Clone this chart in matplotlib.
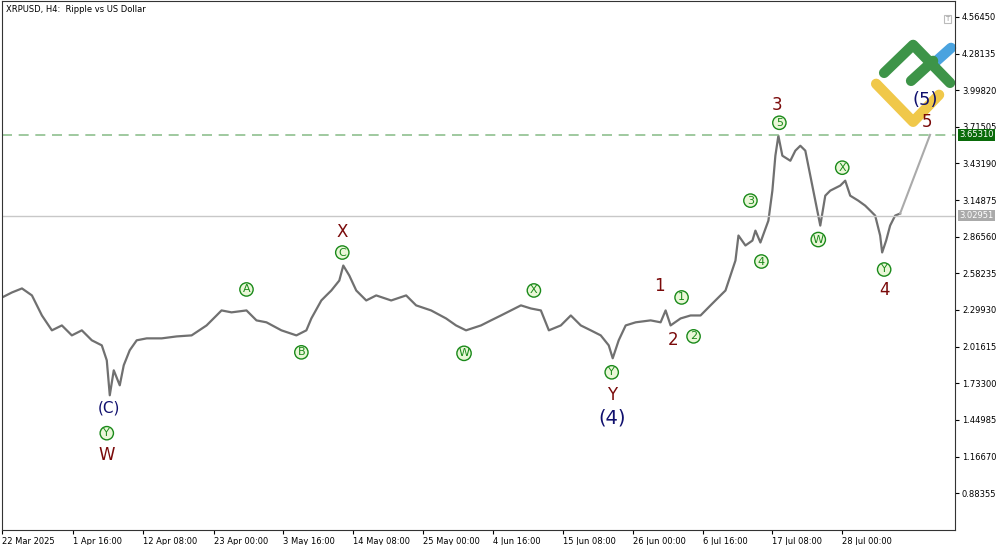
import matplotlib
matplotlib.use("Agg")
import matplotlib.pyplot as plt

# bar position (pixel-like index) and price
xs = [0,10,20,30,40,50,60,70,80,90,100,105,108,112,118,122,128,135,145,160,175,190,205,215,220,230,245,255,265,280,295,305,310,320,325,330,338,342,348,355,365,375,390,405,415,430,445,455,465,480,490,500,510,520,530,540,548,560,570,580,590,600,608,612,618,625,635,650,660,665,670,680,690,700,710,720,725,735,738,745,752,755,760,768,772,775,778,782,790,795,800,805,810,815,820,825,830,840,845,850,858,865,870,875,880,882,886,890,895,900]
prices = [2.396,2.435,2.466,2.412,2.257,2.142,2.180,2.103,2.142,2.065,2.026,1.910,1.640,1.833,1.717,1.872,1.988,2.065,2.080,2.080,2.095,2.103,2.180,2.257,2.296,2.281,2.296,2.219,2.204,2.142,2.103,2.142,2.234,2.373,2.412,2.450,2.527,2.643,2.566,2.450,2.373,2.412,2.373,2.412,2.335,2.296,2.234,2.180,2.142,2.180,2.219,2.257,2.296,2.335,2.311,2.296,2.142,2.180,2.257,2.180,2.142,2.103,2.026,1.926,2.065,2.180,2.204,2.219,2.204,2.296,2.180,2.234,2.257,2.257,2.335,2.412,2.450,2.682,2.875,2.798,2.836,2.913,2.821,2.990,3.222,3.492,3.646,3.492,3.453,3.531,3.569,3.531,3.338,3.145,2.952,3.183,3.222,3.261,3.299,3.183,3.145,3.106,3.068,3.029,2.875,2.744,2.836,2.952,3.029,3.045]
proj_x = [900, 930]
proj_p = [3.045, 3.6531]
level_green = 3.65310
level_gray = 3.02951
yticks = [4.56450,4.28135,3.99820,3.71505,3.43190,3.14875,2.86560,2.58235,2.29930,2.01615,1.73300,1.44985,1.16670,0.88355]
xtick_pos = [0,71,141,212,282,352,422,492,562,632,702,772,842]
xtick_labels = ["22 Mar 2025","1 Apr 16:00","12 Apr 08:00","23 Apr 00:00","3 May 16:00","14 May 08:00","25 May 00:00","4 Jun 16:00","15 Jun 08:00","26 Jun 00:00","6 Jul 16:00","17 Jul 08:00","28 Jul 00:00"]

def py(y):
    return 4.688 - y*0.007716

fig = plt.figure(figsize=(10,5.45), dpi=100)
ax = fig.add_axes([0.002, 15/545, 0.953, 1-16/545])
ax.set_xlim(0,955)
ax.set_ylim(py(530), py(0))
ax.plot(xs, prices, color="#707070", lw=1.6)
ax.plot(proj_x, proj_p, color="#aaaaaa", lw=1.5)
ax.axhline(level_green, color="#8fc08f", ls=(0,(6,4)), lw=1.2)
ax.axhline(level_gray, color="#c8c8c8", lw=1)
ax.yaxis.tick_right()
ax.set_yticks(yticks)
ax.set_yticklabels([f"{v:.5f}" for v in yticks], fontsize=6)
ax.set_xticks(xtick_pos)
ax.set_xticklabels(xtick_labels, fontsize=6, ha="left")
ax.tick_params(length=3, pad=2)
for s in ax.spines.values():
    s.set_color("#333333")
ax.text(4, py(9), "XRPUSD, H4:  Ripple vs US Dollar", fontsize=6, va="center")
ax.text(959, level_green, "3.65310", fontsize=6, color="white", va="center", ha="left", bbox=dict(fc="#0a6b0a", ec="none", pad=1), clip_on=False)
ax.text(959, level_gray, "3.02951", fontsize=6, color="white", va="center", ha="left", bbox=dict(fc="#aaaaaa", ec="none", pad=1), clip_on=False)

G = "#1a8a1a"; R = "#7a0a0a"; N = "#10106e"
circ = [("Y",105,433),("A",245,289),("B",300,352),("C",341,252),("W",463,353),("X",533,290),("Y",611,372),
        ("1",681,297),("2",693,336),("3",750,200),("4",761,261),("5",779,122),("W",818,239),("X",842,167),("Y",884,269)]
for t,x,y in circ:
    ax.text(x, py(y), t, fontsize=8, color=G, ha="center", va="center",
            bbox=dict(boxstyle="circle,pad=0.15", fc="#eaf7d8", ec=G, lw=1))
plain = [("W",105,455,R,12),("X",341,231,R,12),("Y",611,395,R,12),("1",659,286,R,12),("2",672,340,R,12),
         ("3",777,104,R,12),("4",884,290,R,12),("5",927,121,R,12),
         ("(C)",107,408,N,11),("(4)",611,418,N,14),("(5)",925,99,N,13)]
for t,x,y,c,fs in plain:
    ax.text(x, py(y), t, fontsize=fs, color=c, ha="center", va="center")
# logo
def seg(pts, col):
    ax.plot([p[0] for p in pts], [py(p[1]) for p in pts], color=col, lw=7.5, solid_capstyle="round", solid_joinstyle="round", clip_on=False)
seg([(932,64),(951,47)], "#4aa3df")
seg([(876,83),(913,121),(939,94)], "#f0c84a")
seg([(884,72),(913,44),(950,82)], "#3d9448")
seg([(911,80),(933,60)], "#3d9448")
ax.text(947, py(18), "T", fontsize=5, color="#999999", ha="center", va="center",
        bbox=dict(boxstyle="square,pad=0.2", fc="white", ec="#bbbbbb", lw=0.8))
fig.savefig("out.png", dpi=100)
